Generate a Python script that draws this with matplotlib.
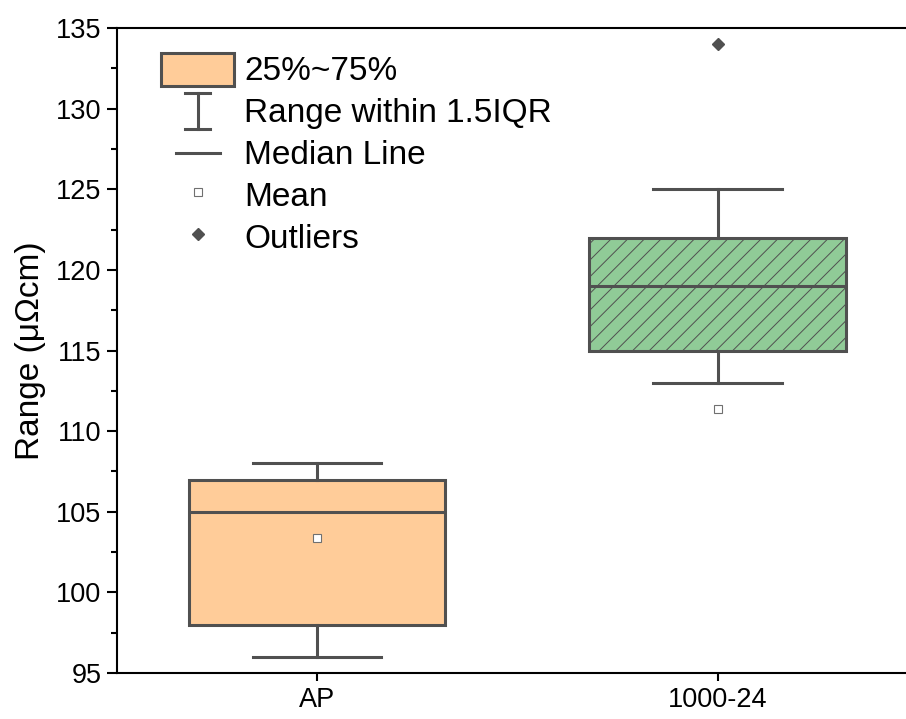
import matplotlib
matplotlib.use("Agg")
import matplotlib.pyplot as plt
from matplotlib.lines import Line2D
from matplotlib.patches import Patch
from matplotlib.legend_handler import HandlerBase
import matplotlib.ticker as tick

# datos (valores de la caja)
grupos = ["AP", "1000-24"]
bigote_inf = [96, 113]
q1 = [98, 115]
mediana = [105, 119]
q3 = [107, 122]
bigote_sup = [108, 125]
media = [103.4, 111.4]
atipicos = [[], [134]]

colores = ["#FFCC99", "#90CB97"]
tramas = [None, "//"]
gris = "#505050"

plt.rcParams["font.family"] = ["Liberation Sans", "DejaVu Sans"]
plt.rcParams["hatch.linewidth"] = 0.7


class HandlerBigote(HandlerBase):
    def create_artists(self, legend, orig_handle, xdescent, ydescent,
                       width, height, fontsize, trans):
        cx = width / 2 - xdescent
        w = width * 0.17
        y0 = -ydescent - 1
        y1 = height - ydescent + 1
        lineas = [Line2D([cx, cx], [y0, y1]),
                  Line2D([cx - w, cx + w], [y0, y0]),
                  Line2D([cx - w, cx + w], [y1, y1])]
        for l in lineas:
            l.set_color(gris)
            l.set_linewidth(2.2)
            l.set_transform(trans)
        return lineas


class HandlerMediana(HandlerBase):
    def create_artists(self, legend, orig_handle, xdescent, ydescent,
                       width, height, fontsize, trans):
        cx = width / 2 - xdescent
        w = width * 0.3
        cy = height / 2 - ydescent
        l = Line2D([cx - w, cx + w], [cy, cy], color=gris, lw=2.2)
        l.set_transform(trans)
        return [l]


def main():
    fig = plt.figure(figsize=(9.06, 7.19), dpi=100)
    ax = fig.add_axes([0.129, 0.064, 0.884, 0.897])

    stats = []
    for i in range(len(grupos)):
        stats.append({
            "label": grupos[i],
            "whislo": bigote_inf[i],
            "q1": q1[i],
            "med": mediana[i],
            "q3": q3[i],
            "whishi": bigote_sup[i],
            "mean": media[i],
            "fliers": atipicos[i],
        })

    bp = ax.bxp(stats, positions=[1, 2], widths=0.64, capwidths=0.32,
                patch_artist=True, showmeans=True,
                boxprops=dict(edgecolor=gris, linewidth=2.2),
                whiskerprops=dict(color=gris, linewidth=2.2),
                capprops=dict(color=gris, linewidth=2.2),
                medianprops=dict(color=gris, linewidth=2.2),
                meanprops=dict(marker="s", markersize=5.5, markerfacecolor="white",
                               markeredgecolor="#707070", markeredgewidth=0.8),
                flierprops=dict(marker="D", markersize=6.5, markerfacecolor=gris,
                                markeredgecolor=gris))
    for caja, c, t in zip(bp["boxes"], colores, tramas):
        caja.set_facecolor(c)
        if t:
            caja.set_hatch(t)

    ax.set_xlim(0.5, 2.5)
    ax.set_ylim(95, 135)
    ax.spines["right"].set_visible(False)
    ax.yaxis.set_major_locator(tick.MultipleLocator(5))
    ax.yaxis.set_minor_locator(tick.MultipleLocator(2.5))
    ax.tick_params(axis="y", which="major", direction="out", length=7, width=1.5,
                   labelsize=19.5, pad=4)
    ax.tick_params(axis="y", which="minor", direction="out", length=4, width=1.5)
    ax.tick_params(axis="x", direction="out", length=6, width=1.5, labelsize=19.5, pad=4)
    for s in ax.spines.values():
        s.set_linewidth(1.5)
    ax.set_ylabel("Range (μΩcm)", fontsize=24, labelpad=7)

    handles = [
        Patch(facecolor=colores[0], edgecolor=gris, linewidth=2.2),
        "bigote",
        "mediana",
        Line2D([], [], marker="s", markersize=5.5, markerfacecolor="white",
               markeredgecolor="#707070", markeredgewidth=0.8, linestyle="none"),
        Line2D([], [], marker="D", markersize=6.5, markerfacecolor=gris,
               markeredgecolor=gris, linestyle="none"),
    ]
    etiquetas = ["25%~75%", "Range within 1.5IQR", "Median Line", "Mean", "Outliers"]
    ax.legend(handles, etiquetas, loc="upper left", bbox_to_anchor=(0.055, 0.962),
              frameon=False, fontsize=24, handlelength=2.2, handleheight=1.15,
              handletextpad=0.3, labelspacing=0.21, borderpad=0, borderaxespad=0,
              handler_map={"bigote": HandlerBigote(), "mediana": HandlerMediana()})

    fig.savefig("out.png", dpi=100)


main()
